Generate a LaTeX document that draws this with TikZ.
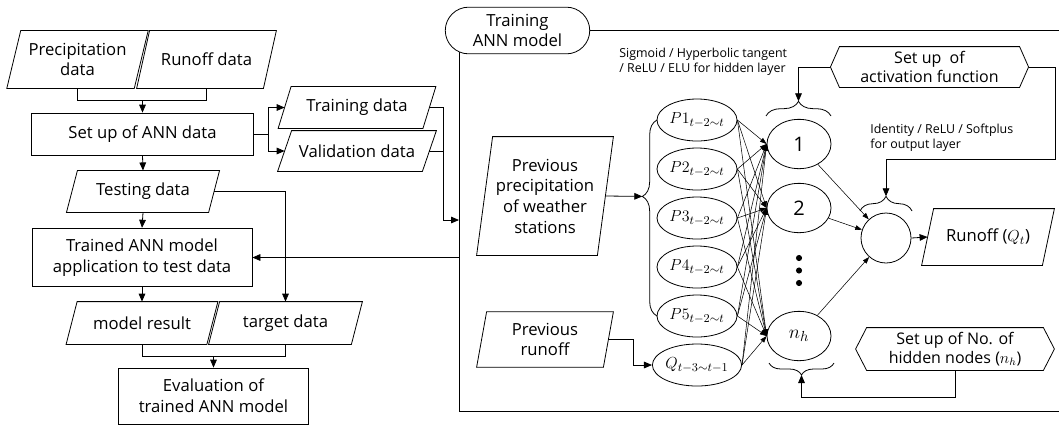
\documentclass[tikz,border=0pt]{standalone}
\usepackage{amsmath}
\usepackage[no-math]{fontspec}
\setmainfont{Open Sans}
\usetikzlibrary{shapes.misc, shapes.geometric, arrows.meta, decorations.pathreplacing}

\tikzset{
    proc/.style={rectangle, draw, align=center, inner sep=2pt, font=\fontsize{12.5}{15.5}\selectfont},
    para/.style={rectangle, align=center, inner sep=2pt, font=\fontsize{12.5}{15.5}\selectfont},
    prep/.style={rectangle, align=center, inner sep=2pt, font=\fontsize{12}{14}\selectfont},
    innode/.style={ellipse, draw, inner sep=0pt, minimum width=60pt, minimum height=31.5pt, font=\fontsize{12.5}{14}\selectfont},
    hidnode/.style={ellipse, draw, inner sep=0pt, minimum width=48pt, minimum height=37pt, font=\fontsize{15}{17}\selectfont},
    note/.style={align=left, anchor=west, inner sep=0pt, font=\fontsize{9.3}{11.5}\selectfont},
    arr/.style={-{Triangle[length=6pt,width=5pt]}},
    arrs/.style={-{Triangle[length=5pt,width=3.5pt]}, line width=0.4pt},
    curly/.style={decorate, decoration={brace, amplitude=#1}},
}

\begin{document}
\begin{tikzpicture}[x=0.75pt, y=-0.75pt, line width=0.6pt]
\useasboundingbox (0,0) rectangle (1059,426);

% outer frame of the training part
\draw (459,30) rectangle (1070,411);
\node [rounded rectangle, draw, fill=white, align=center, minimum width=115pt, minimum height=35pt,
       font=\fontsize{12.5}{15}\selectfont] (tann) at (517.5,30.5) {Training\\ANN model};
\coordinate (fin) at (459,220);
\coordinate (fout) at (459,257.5);
\coordinate (fjoin) at (443,220);

% data flow on the left
\node [para, minimum width=95pt, minimum height=43pt] (prec) at (77.5,59.5) {Precipitation\\data};
\node [para, minimum width=94.5pt, minimum height=43pt] (runoffd) at (206.5,59.5) {Runoff data};
\node [proc, minimum width=166pt, minimum height=31.5pt] (setup) at (142.5,134) {Set up of ANN data};
\node [para, minimum width=108pt, minimum height=31pt] (train) at (357,107.5) {Training data};
\node [para, minimum width=108pt, minimum height=30pt] (valid) at (357,151) {Validation data};
\node [para, minimum width=106pt, minimum height=31pt] (test) at (143,191.5) {Testing data};
\node [proc, minimum width=165pt, minimum height=44pt] (trained) at (142,257.5) {Trained ANN model\\application to test data};
\node [para, minimum width=105pt, minimum height=31.5pt] (result) at (142,323) {model result};
\node [para, minimum width=106.5pt, minimum height=31.5pt] (target) at (285.5,323) {target data};
\node [proc, minimum width=143pt, minimum height=42pt] (eval) at (213.5,396) {Evaluation of\\trained ANN model};
\coordinate (pjoin) at (142.5,100);
\coordinate (ejoin) at (213.5,356);

% inputs
\node [para, minimum width=90pt, minimum height=88.5pt] (prevp) at (545,196) {Previous\\precipitation\\of weather\\stations};
\node [para, minimum width=94.5pt, minimum height=41pt] (prevq) at (545,339.5) {Previous\\runoff};
\node [innode] (p1) at (697,120) {$P1_{t-2\sim t}$};
\node [innode] (p2) at (697,169) {$P2_{t-2\sim t}$};
\node [innode] (p3) at (697,218) {$P3_{t-2\sim t}$};
\node [innode] (p4) at (697,267) {$P4_{t-2\sim t}$};
\node [innode] (p5) at (697,316) {$P5_{t-2\sim t}$};
\node [innode] (q) at (697,365) {$Q_{t-3\sim t-1}$};

% hidden and output layer
\node [hidnode] (h1) at (799,144) {1};
\node [hidnode] (h2) at (799,208) {2};
\node [hidnode] (hn) at (799,336) {$n_h$};
\foreach \y in {258,270.5,283}
    \fill (799,\y) circle (2.3pt);
\node [circle, draw, minimum size=37.5pt, inner sep=0pt] (out) at (886,238) {};
\node [para, minimum width=90pt, minimum height=42pt] (runout) at (988,237) {Runoff ($Q_t$)};

% settings
\node [prep, minimum width=148pt, minimum height=30pt] (actfn) at (929.5,67) {Set up~~of\\activation function};
\node [prep, minimum width=148.5pt, minimum height=31.5pt] (hidfn) at (955,349) {Set up of No. of\\hidden nodes ($n_h$)};
\node [note] (sigtxt) at (619,62) {Sigmoid / Hyperbolic tangent\\/ ReLU / ELU for hidden layer};
\node [note] (idtxt) at (870,137.5) {Identity / ReLU / Softplus\\for output layer};

% outlines of data and setting shapes
\foreach \n/\s in {prec/7, runoffd/6.5, train/6.5, valid/7, test/5.5, result/5.5, target/5.5, prevp/8, prevq/5, runout/6}
    \draw ([xshift=\s*0.75pt]\n.north west) -- ([xshift=\s*0.75pt]\n.north east)
       -- ([xshift=-\s*0.75pt]\n.south east) -- ([xshift=-\s*0.75pt]\n.south west) -- cycle;
\foreach \n/\s in {actfn/9, hidfn/11}
    \draw (\n.west) -- ([xshift=\s*0.75pt]\n.north west) -- ([xshift=-\s*0.75pt]\n.north east)
       -- (\n.east) -- ([xshift=-\s*0.75pt]\n.south east) -- ([xshift=\s*0.75pt]\n.south west) -- cycle;

% braces
\draw [curly=11pt] (766,116) -- (831,116);
\draw [curly=11pt] (860,211) -- (912,211);
\draw [curly=9pt] (834,363) -- (769,363);
\draw [curly=11pt, decoration={aspect=0.61}] (657,316) -- (657,120);
\coordinate (tiph) at (798.5,101.3);
\coordinate (tipo) at (886,196.3);
\coordinate (tipb) at (801.5,375);
\coordinate (tipp) at (642.3,196.4);

% connectors, left part
\draw (prec.south) |- (pjoin);
\draw (runoffd.south) |- (pjoin);
\draw [arr] (pjoin) -- (setup.north);
\draw [arr] (setup.east) -- ++(15,0) |- (train.west);
\draw [arr] (setup.east) -- ++(15,0) |- (valid.west);
\draw (train.east) -| (fjoin);
\draw (valid.east) -| (fjoin);
\draw [arr] (fjoin) -- (fin);
\draw [arr] (setup.south) -- (test.north);
\draw [arr] (test.east) -| (target.north);
\draw [arr] (test.south) -- (trained.north);
\draw [arr] (fout) -- (trained.east);
\draw [arr] (trained.south) -- (result.north);
\draw (result.south) |- (ejoin);
\draw (target.south) |- (ejoin);
\draw [arr] (ejoin) -- (eval.north);

% connectors, network
\draw [arr] (prevp.east) -- (tipp);
\draw [arr] (prevq.east) -- ++(25,0) |- (q.west);
\foreach \i in {p1,p2,p3,p4,p5,q}
    \foreach \h in {h1,h2,hn}
        \draw [arrs] (\i.east) -- (\h.west);
\foreach \h in {h1,h2,hn}
    \draw [arrs] (\h) -- (out);
\draw [arr] (out.east) -- (runout.west);
\draw [arr] (actfn.west) -| (tiph);
\draw [arr] (actfn.east) -- (1055,67) |- (886,159) -- (tipo);
\draw [arr] (hidfn.south) -- (955,397) -| (tipb);
\end{tikzpicture}
\end{document}
